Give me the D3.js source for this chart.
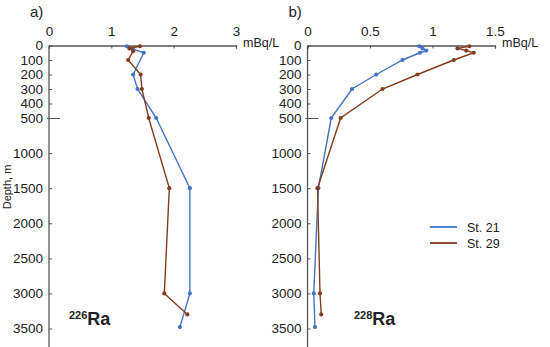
<!DOCTYPE html>
<html>
<head>
<meta charset="utf-8">
<script src="https://d3js.org/d3.v7.min.js"></script>
<style>
  body { margin: 0; background: #fff; }
  text { font-family: "Liberation Sans", Arial, sans-serif; fill: #222; }
</style>
</head>
<body>
<div id="chart"></div>
<script>
// depth ticks (m)
const depthTicks = [0, 100, 200, 300, 400, 500, 1000, 1500, 2000, 2500, 3000, 3500];

// 226Ra, mBq/L
const ra226Ticks = [0, 1, 2, 3];
const ra226St21 = [
    {d: 5, v: 1.25}, {d: 25, v: 1.35}, {d: 50, v: 1.52}, {d: 200, v: 1.35},
    {d: 300, v: 1.42}, {d: 500, v: 1.72}, {d: 1500, v: 2.26}, {d: 3000, v: 2.26},
    {d: 3480, v: 2.10}
];
const ra226St29 = [
    {d: 5, v: 1.46}, {d: 20, v: 1.29}, {d: 40, v: 1.35}, {d: 100, v: 1.27},
    {d: 200, v: 1.47}, {d: 300, v: 1.49}, {d: 500, v: 1.60}, {d: 1500, v: 1.93},
    {d: 3000, v: 1.85}, {d: 3300, v: 2.22}
];

// 228Ra, mBq/L
const ra228Ticks = [0, 0.5, 1, 1.5];
const ra228St21 = [
    {d: 5, v: 0.895}, {d: 20, v: 0.92}, {d: 35, v: 0.95}, {d: 50, v: 0.90},
    {d: 100, v: 0.76}, {d: 200, v: 0.55}, {d: 300, v: 0.356}, {d: 500, v: 0.19},
    {d: 1500, v: 0.087}, {d: 3000, v: 0.05}, {d: 3480, v: 0.06}
];
const ra228St29 = [
    {d: 5, v: 1.295}, {d: 20, v: 1.20}, {d: 35, v: 1.27}, {d: 50, v: 1.33},
    {d: 100, v: 1.17}, {d: 200, v: 0.88}, {d: 300, v: 0.60}, {d: 500, v: 0.265},
    {d: 1500, v: 0.08}, {d: 3000, v: 0.10}, {d: 3300, v: 0.11}
];

const stations = ["St. 21", "St. 29"];
const colors = ["#4472c4", "#843c1c"];

const width = 550, height = 347;

const svg = d3.select("#chart").append("svg")
    .attr("width", width)
    .attr("height", height);

// stretched upper 500 m
const y = d3.scaleLinear()
    .domain([0, 500, 3500])
    .range([45.5, 118, 328.5]);

function panel(x0, x1, maxV, ticks, series, letter, isotope, labelX) {
    const x = d3.scaleLinear().domain([0, maxV]).range([x0, x1]);

    svg.append("text")
        .attr("x", x0 - 19)
        .attr("y", 17)
        .style("font-size", "15px")
        .text(letter);

    ////////////////
    /// x axis   ///
    ////////////////
    const xAxis = svg.append("g")
        .attr("transform", "translate(0," + y(0) + ")")
        .call(d3.axisTop(x).tickValues(ticks).tickSize(-3).tickPadding(10)
            .tickFormat(d3.format("")));
    xAxis.select(".domain").attr("stroke", "#555").attr("stroke-width", 1.3);
    xAxis.selectAll(".tick line").attr("stroke", "#555");
    xAxis.selectAll("text")
        .style("font-size", "13.5px")
        .style("font-family", "Liberation Sans, Arial, sans-serif")
        .attr("fill", "#222");

    svg.append("text")
        .attr("x", x1 + 7)
        .attr("y", y(0) + 1)
        .style("font-size", "12.5px")
        .text("mBq/L");

    ////////////////
    /// y axis   ///
    ////////////////
    const yAxis = svg.append("g")
        .attr("transform", "translate(" + x0 + ",0)")
        .call(d3.axisLeft(y).tickValues(depthTicks).tickSize(-3).tickPadding(6)
            .tickFormat(d3.format("")));
    yAxis.select(".domain")
        .attr("d", "M0," + y(0) + "V" + height)
        .attr("stroke", "#555").attr("stroke-width", 1.3);
    yAxis.selectAll(".tick line").attr("stroke", "#555");
    yAxis.selectAll(".tick").filter(d => d === 500).select("line")
        .attr("x1", -2).attr("x2", 11);
    yAxis.selectAll("text")
        .style("font-size", "13.5px")
        .style("font-family", "Liberation Sans, Arial, sans-serif")
        .attr("fill", "#222");

    //////////////
    /// lines  ///
    //////////////
    const line = d3.line().x(d => x(d.v)).y(d => y(d.d));

    series.forEach((s, i) => {
        svg.append("path")
            .datum(s)
            .attr("fill", "none")
            .attr("stroke", colors[i])
            .attr("stroke-width", 1.4)
            .attr("d", line);

        svg.selectAll(null)
            .data(s)
            .enter()
            .append("circle")
            .attr("cx", d => x(d.v))
            .attr("cy", d => y(d.d))
            .attr("r", 2.1)
            .attr("fill", colors[i]);
    });

    const lab = svg.append("text")
        .attr("x", labelX)
        .attr("y", 325)
        .style("font-weight", "bold");
    lab.append("tspan")
        .style("font-size", "11px")
        .attr("dy", -6)
        .text(isotope);
    lab.append("tspan")
        .style("font-size", "18px")
        .attr("dy", 6)
        .text("Ra");
}

panel(49, 236, 3, ra226Ticks, [ra226St21, ra226St29], "a)", "226", 69);
panel(307.5, 495, 1.5, ra228Ticks, [ra228St21, ra228St29], "b)", "228", 354);

// y label
svg.append("text")
    .attr("transform", "translate(11,187) rotate(-90)")
    .attr("text-anchor", "middle")
    .style("font-size", "11px")
    .text("Depth, m");

//////////////
/// legend ///
//////////////
const legend = svg.append("g").attr("transform", "translate(430,227)");
stations.forEach((s, i) => {
    legend.append("line")
        .attr("x1", 0).attr("x2", 27)
        .attr("y1", i * 16).attr("y2", i * 16)
        .attr("stroke", colors[i])
        .attr("stroke-width", 1.8);
    legend.append("text")
        .attr("x", 37)
        .attr("y", i * 16 + 4.5)
        .style("font-size", "12.5px")
        .text(s);
});
</script>
</body>
</html>
